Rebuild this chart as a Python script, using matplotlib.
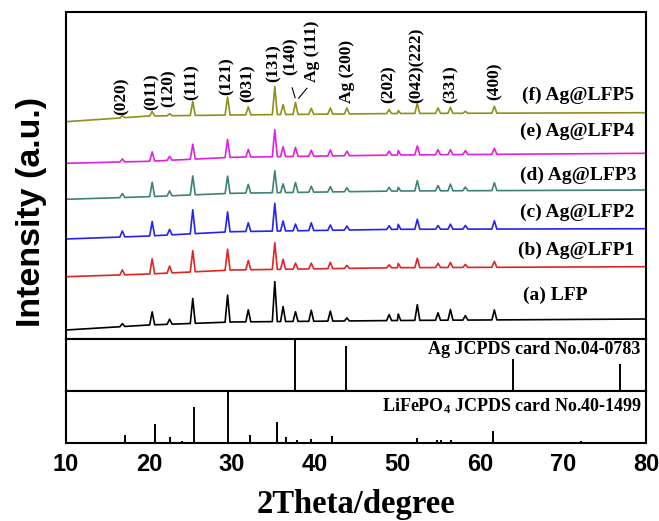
import numpy as np
import matplotlib
matplotlib.use("Agg")
import matplotlib.pyplot as plt

plt.rcParams["font.family"] = ["Liberation Serif", "DejaVu Serif"]
plt.rcParams["mathtext.fontset"] = "custom"
plt.rcParams["mathtext.bf"] = "Liberation Serif:bold"
plt.rcParams["mathtext.rm"] = "Liberation Serif:bold"
plt.rcParams["mathtext.default"] = "bf"

# anchors of the baseline of every pattern (2theta, intensity a.u.)
base_x = [10, 20, 30, 50, 80]

# peak positions seen in the measured patterns
peak_pos = [16.8, 20.4, 22.5, 25.3, 29.5, 32.0, 35.2, 36.2, 37.7, 39.6,
            41.9, 43.9, 49.0, 50.1, 52.4, 54.9, 56.4, 58.2, 61.7]

names = ["(a) LFP", "(b) Ag@LFP1", "(c) Ag@LFP2",
         "(d) Ag@LFP3", "(e) Ag@LFP4", "(f) Ag@LFP5"]
colors = ["black", "#e02424", "#2323f0", "#3f8078", "#e020e0", "#8f8f1c"]

base_a = [9, 14, 17, 18.5, 20]
base_b = [62.3, 65, 69, 71.3, 72.3]
base_c = [100, 103, 107.3, 109.7, 110.3]
base_d = [139.7, 142.3, 145.7, 148, 149]
base_e = [175.7, 177.7, 181.7, 184, 185.7]
base_f = [217.3, 223, 224, 225.5, 226.3]

peaks_a = [3, 13, 5, 25, 27, 12, 40, 15, 9.7, 11, 10, 3, 6, 6.5, 15.7, 7.5, 10.7, 4.5, 10]
peaks_b = [5, 15, 7, 21.3, 21, 9.3, 26.7, 10, 6, 5.7, 6.3, 3, 3, 4.3, 9.3, 4.3, 5, 3, 6]
peaks_c = [6, 14.3, 5.5, 24, 20, 8.7, 27.7, 10, 6.7, 7.7, 5.3, 4, 3.7, 5, 10, 3.7, 5, 3.7, 8.3]
peaks_d = [4, 14.3, 5, 19, 17.3, 8.7, 22, 8.7, 10, 6, 5.3, 4, 3.7, 3.7, 10.3, 5.3, 6.7, 3.7, 8]
peaks_e = [3, 9.3, 4, 15, 18, 7.7, 27, 10, 9, 6, 6, 4.5, 4, 4.5, 9, 5, 5, 4, 6]
peaks_f = [2, 4.5, 2, 14, 18, 8, 28, 10, 12, 6, 6, 6, 4, 3, 10, 5.5, 6, 2, 7]

bases = [base_a, base_b, base_c, base_d, base_e, base_f]
peaks = [peaks_a, peaks_b, peaks_c, peaks_d, peaks_e, peaks_f]

# hkl labels: text, 2theta, height of label bottom
hkl_text = ["(020)", "(011)", "(120)", "(111)", "(121)", "(031)", "(131)",
            "(140)", "Ag (111)", "Ag (200)", "(202)", "(042)(222)", "(331)", "(400)"]
hkl_x = [16.7, 20.3, 22.4, 25.2, 29.4, 31.9, 35.1, 37.15, 39.65, 43.9,
         48.9, 52.3, 56.4, 61.7]
hkl_y = [224, 229, 232, 239, 244, 237, 257, 264, 257, 236, 236, 236, 236, 239]

# reference cards
ag_pos = [37.6, 43.8, 63.9, 76.9]
ag_int = [1.0, 0.875, 0.61, 0.525]
lfp_pos = [17.15, 20.8, 22.6, 24.0, 25.5, 29.6, 32.2, 35.5, 36.5, 37.85,
           39.6, 42.1, 50.2, 52.4, 54.8, 55.2, 56.5, 61.5, 72.2]
lfp_int = [0.16, 0.37, 0.11, 0.04, 0.70, 1.0, 0.15, 0.41, 0.11, 0.06,
           0.08, 0.14, 0.02, 0.10, 0.05, 0.05, 0.05, 0.24, 0.04]

half_w = 0.3


def pattern(base, heights):
    xs = list(base_x)
    ys = list(base)
    for p, h in zip(peak_pos, heights):
        for dx, dh in [(-half_w, 0), (0, h), (half_w, 0)]:
            xs.append(p + dx)
            ys.append(np.interp(p + dx, base_x, base) + dh)
    order = np.argsort(xs, kind="stable")
    return np.array(xs)[order], np.array(ys)[order]


fig = plt.figure(figsize=(6.59, 5.21), dpi=100)
left, width = 66 / 659, 580 / 659
ax = fig.add_axes([left, 1 - 339 / 521, width, 327 / 521])
ax_ag = fig.add_axes([left, 1 - 391 / 521, width, 52 / 521], sharex=ax)
ax_lfp = fig.add_axes([left, 1 - 443 / 521, width, 52 / 521], sharex=ax)

for name, col, b, h in zip(names, colors, bases, peaks):
    x, y = pattern(b, h)
    ax.plot(x, y, color=col, lw=1.2)

ax.set_xlim(10, 80)
ax.set_ylim(0, 327)

for t, x, y in zip(hkl_text, hkl_x, hkl_y):
    ax.text(x, y, t, rotation=90, ha="center", va="bottom",
            fontsize=12.5, fontweight="bold")

ax.annotate("", xy=(37.75, 238.5), xytext=(37.2, 254),
            arrowprops=dict(arrowstyle="-", lw=0.8, color="black"))
ax.annotate("", xy=(37.85, 238.5), xytext=(39.3, 253),
            arrowprops=dict(arrowstyle="-", lw=0.8, color="black"))

label_x = [69.0, 78.6, 78.6, 78.8, 78.6, 78.6]
label_y = [44, 89, 127, 164, 208, 244]
for i, (name, x, y) in enumerate(zip(names, label_x, label_y)):
    ax.text(x, y, name, ha="center" if i == 0 else "right", va="center",
            fontsize=14, fontweight="bold")

ax_ag.vlines(ag_pos, 0, ag_int, color="black", lw=1.4)
ax_ag.set_ylim(0, 1)
ax_ag.text(79.3, 0.79, "Ag JCPDS card No.04-0783", ha="right", va="center",
           fontsize=13, fontweight="bold")

ax_lfp.vlines(lfp_pos, 0, lfp_int, color="black", lw=1.4)
ax_lfp.set_ylim(0, 1)
ax_lfp.text(79.6, 0.70, "LiFePO$_4$ JCPDS card No.40-1499", ha="right",
            va="center", fontsize=13, fontweight="bold")

for a in [ax, ax_ag, ax_lfp]:
    for s in a.spines.values():
        s.set_linewidth(1.5)
    a.set_yticks([])
    a.tick_params(axis="x", length=0)
ax.tick_params(labelbottom=False)
ax_ag.tick_params(labelbottom=False)

ax_lfp.set_xticks(np.arange(10, 81, 10))
ax_lfp.tick_params(axis="x", pad=7)
for lab in ax_lfp.get_xticklabels():
    lab.set_fontfamily("Liberation Sans")
    lab.set_fontweight("bold")
    lab.set_fontsize(17)

fig.text(356 / 659, 16 / 521, "2Theta/degree", ha="center", va="center",
         fontsize=23.5, fontweight="bold")
fig.text(32 / 659, 1 - 212 / 521, "Intensity (a.u.)", rotation=90,
         ha="center", va="center", fontsize=24.5, fontweight="bold",
         family="Liberation Sans")

fig.savefig("out.png", dpi=100)
